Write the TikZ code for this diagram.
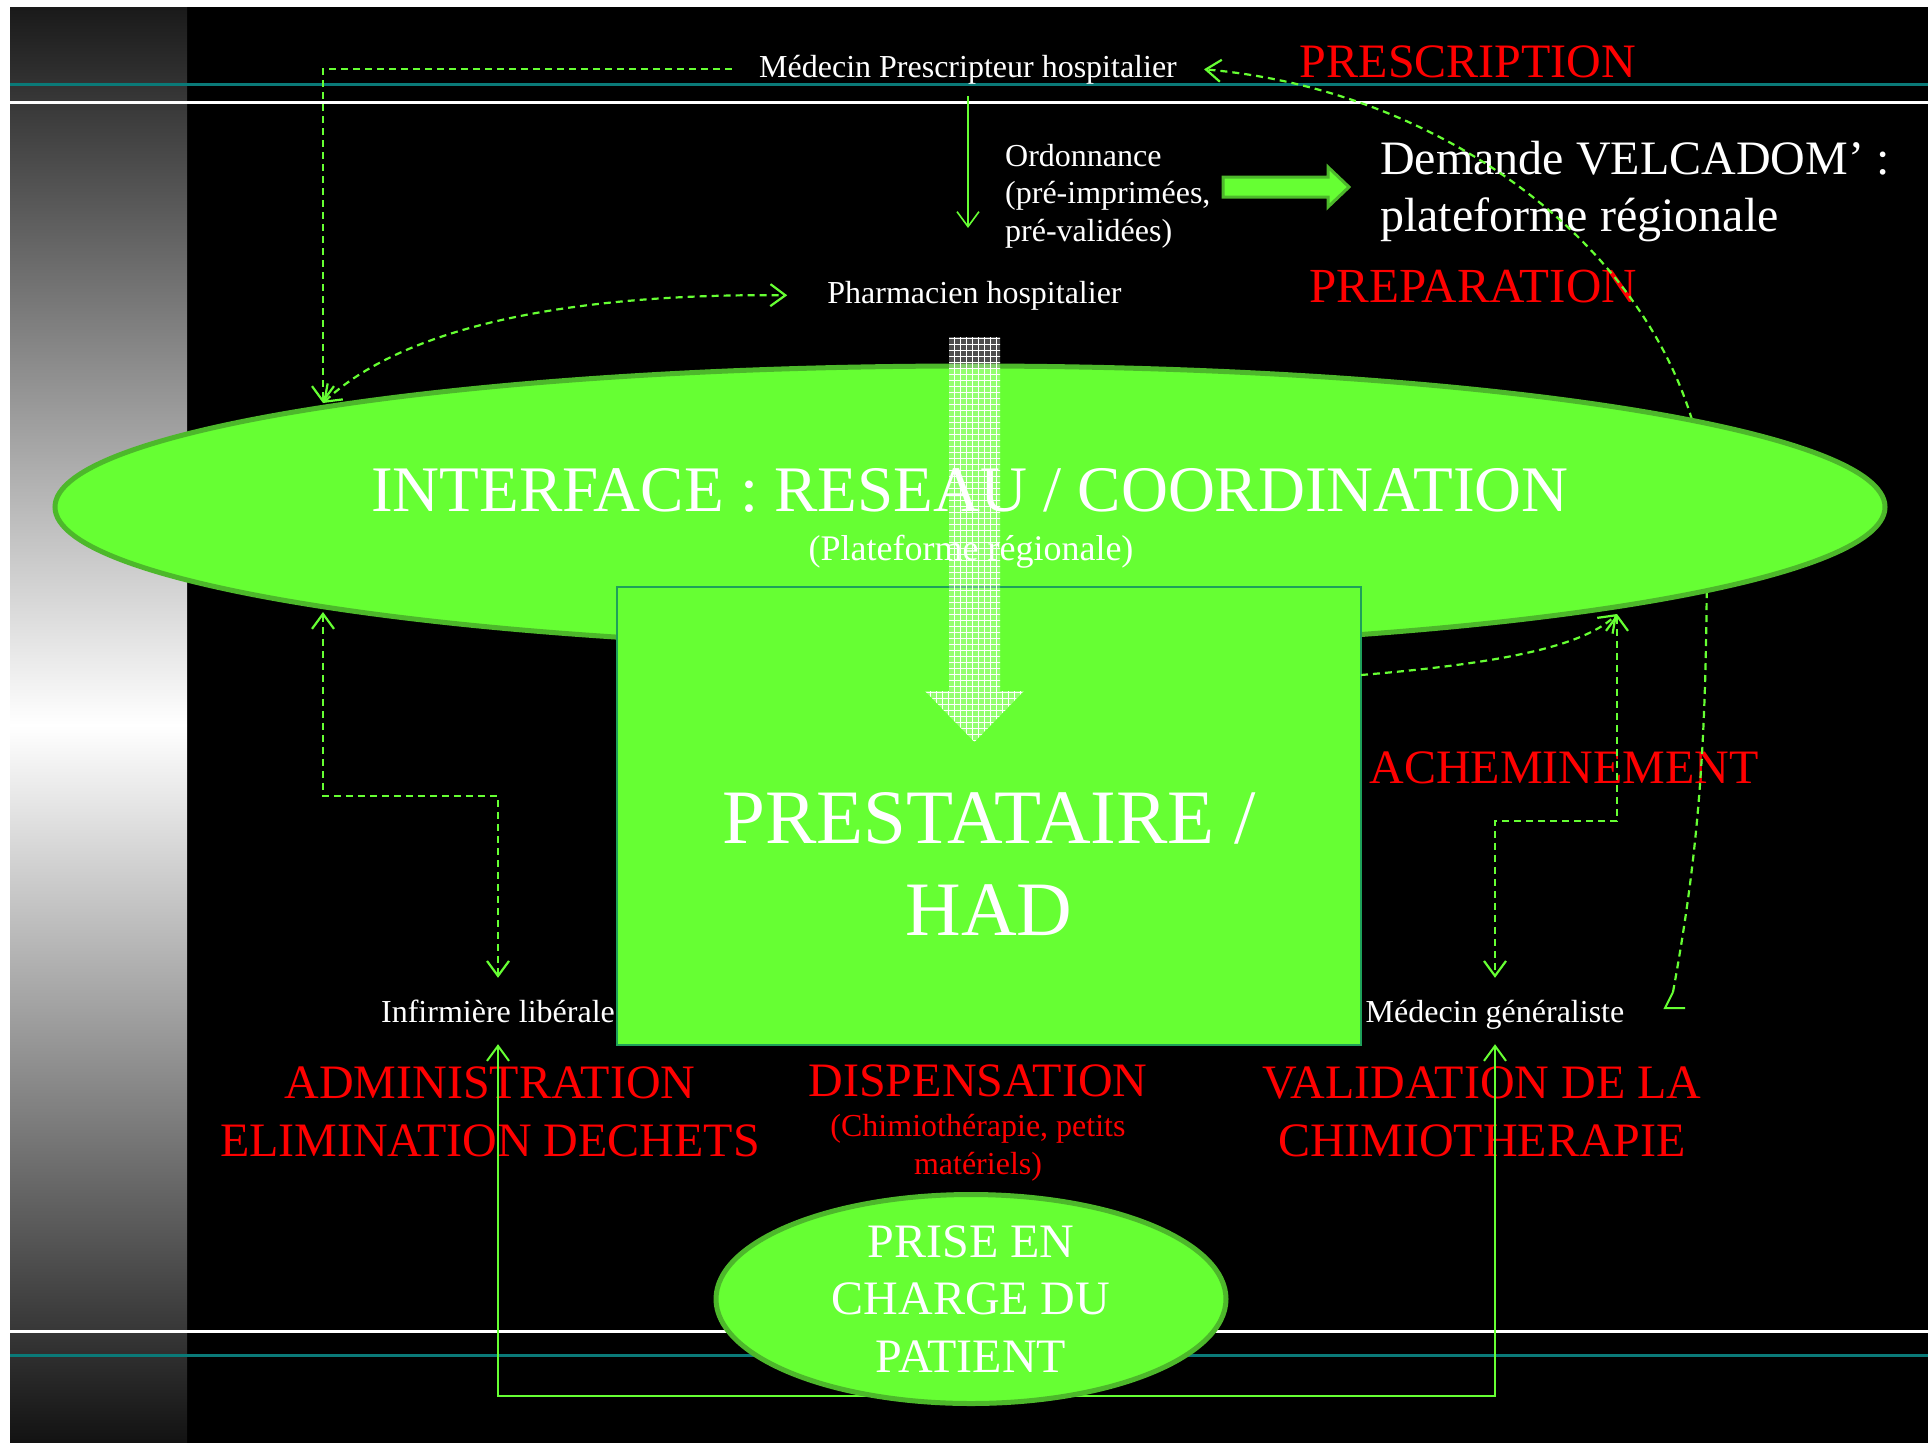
\documentclass[tikz,border=0pt]{standalone}
\usepackage{fontspec}
\setmainfont{Liberation Serif}
\usetikzlibrary{arrows.meta,shapes.geometric,calc,patterns.meta}
\definecolor{lgreen}{HTML}{66FF33}
\definecolor{egreen}{HTML}{4DB82B}
\definecolor{tealline}{HTML}{0A7A78}
\definecolor{rborder}{HTML}{1EA05A}
\definecolor{redtxt}{HTML}{FF0000}
\begin{document}
\begin{tikzpicture}[x=1pt,y=-1pt,
  >={Straight Barb[length=15pt,width=22pt]},
  fs/.style 2 args={font=\fontsize{#1}{#2}\selectfont},
  wt/.style={text=white, inner sep=0pt},
  rt/.style={text=redtxt, inner sep=0pt},
  dl/.style={draw=lgreen, line width=2.2pt, dash pattern=on 7pt off 5pt},
  sl/.style={draw=lgreen, line width=2pt},
  bigell/.style={ellipse, draw=egreen, line width=5pt, fill=lgreen, inner sep=0pt},
]
% background
\useasboundingbox (0,0) rectangle (1928,1443);
\fill[white] (0,0) rectangle (1928,1443);
\fill[black] (10,7) rectangle (1928,1443);
\shade[top color=black!90, bottom color=black!93, middle color=white] (10,7) rectangle (187,1443);
\draw[tealline, line width=3pt] (10,84) -- (1928,84);
\draw[white, line width=3pt] (10,102) -- (1928,102);
\draw[white, line width=3pt] (10,1331) -- (1928,1331);
\draw[tealline, line width=3pt] (10,1355) -- (1928,1355);

% outside texts
\node[wt, fs={32}{38}, anchor=base, inner xsep=27pt, inner ysep=12pt] (mp) at (968,77) {Médecin Prescripteur hospitalier};
\node[wt, fs={32}{37.5}, anchor=west, align=left] (ord) at (1005,196) {Ordonnance\\(pré-imprimées,\\pré-validées)};
\node[wt, fs={48}{57}, anchor=west, align=left] (dem) at (1380,192) {Demande VELCADOM’ :\\plateforme régionale};
\node[wt, fs={32}{38}, anchor=base, inner xsep=40pt, inner ysep=4pt] (ph) at (974.5,303) {Pharmacien hospitalier};
\node[rt, fs={48}{58}, anchor=base] (presc) at (1468,77) {PRESCRIPTION};
\node[rt, fs={49}{58}, anchor=base] (prep) at (1473,302) {PREPARATION};
\node[rt, fs={48}{58}, anchor=base] (ach) at (1564,783) {ACHEMINEMENT};
\node[wt, fs={32}{38}, anchor=base, text height=22pt, text depth=0pt, inner ysep=22pt] (inf) at (498,1022) {Infirmière libérale};
\node[wt, fs={32}{38}, anchor=base, text height=22pt, text depth=0pt, inner ysep=22pt] (mg) at (1495,1022) {Médecin généraliste};
\node[rt, fs={48}{58}, align=center] (adm) at (490,1112) {ADMINISTRATION\\ELIMINATION DECHETS};
\node[rt, fs={48}{58}, anchor=base] (disp) at (978,1096) {DISPENSATION};
\node[rt, fs={32}{37.5}, align=center] (dispsub) at (978,1148) {(Chimiothérapie, petits\\matériels)};
\node[rt, fs={48}{58}, align=center] (valid) at (1482,1112) {VALIDATION DE LA\\CHIMIOTHERAPIE};

% long curve (behind the big ellipse)
\coordinate (mgc) at (1673,992);
\coordinate (mgtip) at (1665,1008);
\draw[dl, ->] (mgc) .. controls (1702,834) and (1707,720) .. (1707,520)
  .. controls (1707,295) and (1480,93.5) .. (mp.east);
\draw[sl] (mgc) -- (mgtip) -- ++(20,0);

% big ellipse and rectangle
\node[bigell, minimum width=1830pt, minimum height=282pt] (iface) at (970,507) {};
\node[draw=rborder, line width=2pt, fill=lgreen, minimum width=744pt, minimum height=458pt, inner sep=0pt] (had) at (989,816) {};

\node[wt, fs={65}{76}, anchor=base] (ifacet) at (970,511) {INTERFACE : RESEAU / COORDINATION};
\node[wt, fs={36}{42}, anchor=base] (plat) at (971,560) {(Plateforme régionale)};
\node[wt, fs={77}{92}, align=center] (hadt) at (989,864) {PRESTATAIRE /\\HAD};

% translucent textured arrow
\fill[white, fill opacity=0.3] (949,337) -- (1000,337) -- (1000,691) -- (1024,691) -- (974.5,742) -- (925,691) -- (949,691) -- cycle;
\fill[pattern={Lines[distance=6pt,angle=0,line width=1pt]}, pattern color=white, fill opacity=0.22] (949,337) -- (1000,337) -- (1000,691) -- (1024,691) -- (974.5,742) -- (925,691) -- (949,691) -- cycle;
\fill[pattern={Lines[distance=6pt,angle=90,line width=1pt]}, pattern color=white, fill opacity=0.22] (949,337) -- (1000,337) -- (1000,691) -- (1024,691) -- (974.5,742) -- (925,691) -- (949,691) -- cycle;

% connectors
\coordinate (ifTL) at (323,403);
\coordinate (ifBL) at (323,612);
\coordinate (ifBR) at (1617,614);
\coordinate (hadR) at (1361,675);
\coordinate (ordtip) at (968,228);
\coordinate (bot) at (970,1396);
\coordinate (ba) at (1223,187);

\draw[dl, ->] (mp.west) -| (ifTL);
\draw[dl, <->] (ifTL) .. controls (400,330) and (560,293) .. (ph.west);
\draw[sl, line width=1.6pt, ->] (mp.south) -- (ordtip);
\draw[egreen, line width=3pt, fill=lgreen] (ba) -- ++(0,-10) -- ++(105,0) -- ++(0,-10) -- ++(21,20) -- ++(-21,20) -- ++(0,-10) -- ++(-105,0) -- cycle;
\draw[dl, ->] (hadR) .. controls (1480,665) and (1580,650) .. (ifBR);
\draw[dl, <->] (ifBR) -- ++(0,207) -| (mg.north);
\draw[dl, <->] (ifBL) -- ++(0,184) -| (inf.north);
\draw[sl, <->] (inf.south) -- (inf.south |- bot) -| (mg.south);

% patient ellipse
\node[bigell, minimum width=510pt, minimum height=209pt, text=white, fs={48}{57.5}, align=center] (pat) at (971,1299) {PRISE EN\\CHARGE DU\\PATIENT};
\end{tikzpicture}
\end{document}
